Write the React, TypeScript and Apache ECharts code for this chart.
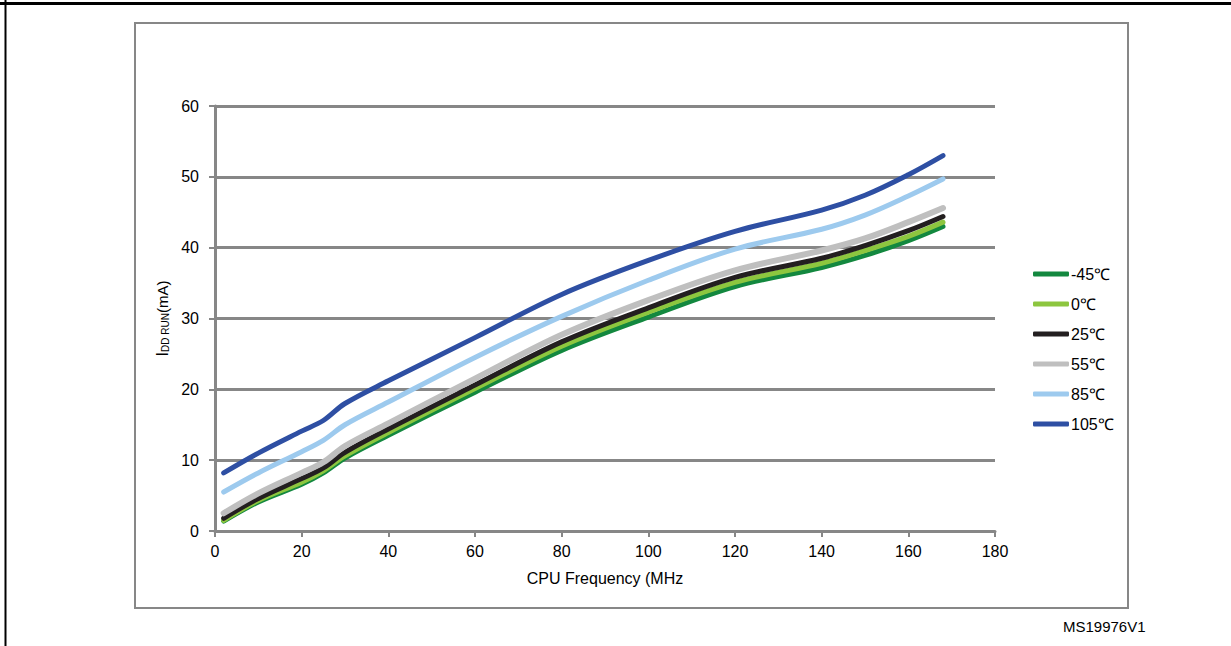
import React, { useEffect, useRef } from "react";
import * as echarts from "echarts";

const freqMHz = [2, 10, 20, 25, 30, 40, 60, 80, 100, 120, 140, 150, 160, 168];
const seriesNames = ["-45℃", "0℃", "25℃", "55℃", "85℃", "105℃"];
const iddM45 = [1.4, 4.1, 6.6, 8.2, 10.3, 13.5, 19.6, 25.5, 30.2, 34.5, 37.2, 38.9, 41.0, 43.0];
const idd0 = [1.5, 4.3, 6.9, 8.5, 10.6, 13.9, 20.1, 26.1, 30.9, 35.1, 37.8, 39.6, 41.6, 43.6];
const idd25 = [1.8, 4.6, 7.4, 8.9, 11.1, 14.4, 20.6, 26.7, 31.5, 35.8, 38.5, 40.3, 42.4, 44.4];
const idd55 = [2.5, 5.3, 8.2, 9.7, 12.0, 15.2, 21.5, 27.7, 32.6, 36.8, 39.6, 41.3, 43.6, 45.6];
const idd85 = [5.5, 8.2, 11.2, 12.8, 15.0, 18.2, 24.5, 30.3, 35.4, 39.8, 42.6, 44.6, 47.3, 49.7];
const idd105 = [8.2, 11.0, 14.1, 15.6, 18.0, 21.2, 27.3, 33.4, 38.2, 42.3, 45.3, 47.4, 50.3, 53.0];
const seriesValues = [iddM45, idd0, idd25, idd55, idd85, idd105];
const seriesColors = ["#13883f", "#8dc63f", "#231f20", "#bfbfbf", "#9dcaee", "#2e4fa3"];
const xTicks = { min: 0, max: 180, interval: 20 };
const yTicks = { min: 0, max: 60, interval: 10 };

const FONT = "'Liberation Sans', Arial, sans-serif";
const GRAY = "#878787";

export default function App() {
  const ref = useRef<HTMLDivElement>(null);
  useEffect(() => {
    document.body.style.margin = "0";
    const chart = echarts.init(ref.current!, null, { renderer: "svg" });
    const series = seriesNames.map((name, i) => ({
      name,
      type: "line",
      data: freqMHz.map((f, j) => [f, seriesValues[i][j]]),
      smooth: 0.35,
      showSymbol: false,
      symbol: "none",
      color: seriesColors[i],
      lineStyle: { width: i === 3 ? 6 : 5, color: seriesColors[i], cap: "round", join: "round" },
      z: 2 + i,
    }));
    chart.setOption({
      animation: false,
      backgroundColor: "#ffffff",
      textStyle: { fontFamily: FONT },
      grid: { left: 215, right: 236, top: 106, bottom: 115, containLabel: false },
      xAxis: {
        type: "value",
        min: xTicks.min,
        max: xTicks.max,
        interval: xTicks.interval,
        name: "CPU Frequency (MHz",
        nameLocation: "middle",
        nameGap: 39,
        nameTextStyle: { fontSize: 16, color: "#000", fontFamily: FONT },
        axisLine: { show: true, lineStyle: { color: GRAY, width: 3 } },
        axisTick: { show: true, length: 6, lineStyle: { color: GRAY, width: 2 } },
        axisLabel: { fontSize: 16, color: "#000", margin: 12, fontFamily: FONT },
        splitLine: { show: false },
      },
      yAxis: {
        type: "value",
        min: yTicks.min,
        max: yTicks.max,
        interval: yTicks.interval,
        name: "{a|I}{b|DD RUN}{c|(mA)}",
        nameLocation: "middle",
        nameRotate: 90,
        nameGap: 35,
        nameTextStyle: {
          color: "#000",
          rich: {
            a: { fontSize: 16, color: "#000", fontFamily: FONT, verticalAlign: "bottom" },
            b: { fontSize: 10, color: "#000", fontFamily: FONT, verticalAlign: "bottom" },
            c: { fontSize: 15, color: "#000", fontFamily: FONT, verticalAlign: "bottom" },
          },
        },
        axisLine: { show: true, lineStyle: { color: GRAY, width: 3 } },
        axisTick: { show: true, length: 6, lineStyle: { color: GRAY, width: 2 } },
        axisLabel: { fontSize: 16, color: "#000", margin: 16, fontFamily: FONT },
        splitLine: { show: true, lineStyle: { color: GRAY, width: 3 } },
      },
      legend: {
        orient: "vertical",
        left: 1033,
        top: 265,
        padding: 0,
        itemWidth: 36,
        itemHeight: 5,
        itemGap: 12,
        icon: "roundRect",
        data: seriesNames,
        textStyle: { fontSize: 16, color: "#000", fontFamily: FONT, lineHeight: 18, padding: [0, 0, 0, -3] },
      },
      graphic: [
        {
          type: "line",
          shape: { x1: 0, y1: 3.5, x2: 1231, y2: 3.5 },
          style: { stroke: "#000", lineWidth: 3 },
        },
        {
          type: "line",
          shape: { x1: 5.5, y1: 0, x2: 5.5, y2: 646 },
          style: { stroke: "#000", lineWidth: 2 },
        },
        {
          type: "rect",
          shape: { x: 135, y: 23, width: 993, height: 585 },
          style: { stroke: GRAY, lineWidth: 2, fill: "none" },
          z: -1,
        },
        {
          type: "text",
          x: 1063,
          y: 619,
          style: { text: "MS19976V1", fontSize: 15, fill: "#000", fontFamily: FONT },
        },
      ],
      series,
    });
    return () => chart.dispose();
  }, []);
  return <div ref={ref} style={{ position: "fixed", left: 0, top: 0, width: 1231, height: 646 }} />;
}
